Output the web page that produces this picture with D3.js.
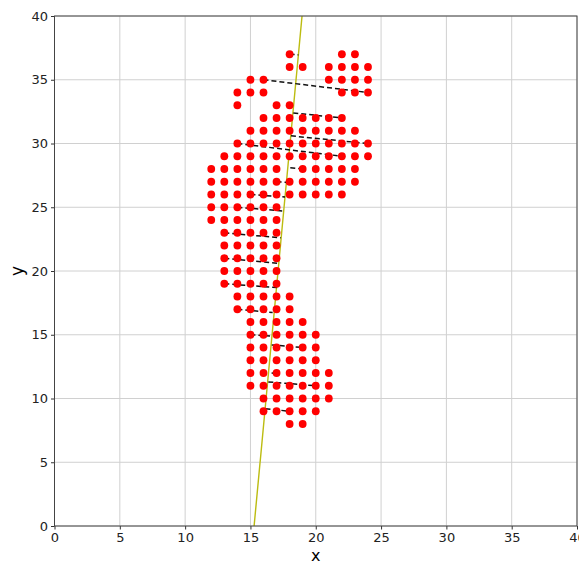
<!DOCTYPE html>
<html>
<head>
<meta charset="utf-8">
<script src="https://cdn.jsdelivr.net/npm/d3@7"></script>
<style>
  body { margin: 0; background: #fff; }
  .tick text { font-family: "DejaVu Sans", sans-serif; font-size: 13px; fill: #222; }
  .grid line { stroke: #d0d0d0; stroke-width: 1; }
</style>
</head>
<body>
<div id="chart"></div>
<script>
// point rows: y value and the x values found on that row
var rowY = [37, 36, 35, 34, 33, 32, 31, 30, 29, 28, 27, 26, 25, 24, 23, 22, 21, 20, 19, 18, 17, 16, 15, 14, 13, 12, 11, 10, 9, 8];
var rowXs = [
  [18, 22, 23],
  [18, 19, 21, 22, 23, 24],
  [15, 16, 21, 22, 23, 24],
  [14, 15, 16, 22, 23, 24],
  [14, 17, 18],
  [16, 17, 18, 19, 20, 21, 22],
  [15, 16, 17, 18, 19, 20, 21, 22, 23],
  [14, 15, 16, 17, 18, 19, 20, 21, 22, 23, 24],
  [13, 14, 15, 16, 17, 18, 19, 20, 21, 22, 23, 24],
  [12, 13, 14, 15, 16, 17, 19, 20, 21, 22, 23],
  [12, 13, 14, 15, 16, 17, 18, 19, 20, 21, 22, 23],
  [12, 13, 14, 15, 16, 17, 18, 19, 20, 21, 22],
  [12, 13, 14, 15, 16, 17],
  [12, 13, 14, 15, 16, 17],
  [13, 14, 15, 16, 17],
  [13, 14, 15, 16, 17],
  [13, 14, 15, 16, 17],
  [13, 14, 15, 16, 17],
  [13, 14, 15, 16, 17],
  [14, 15, 16, 17, 18],
  [14, 15, 16, 17, 18],
  [15, 16, 17, 18, 19],
  [15, 16, 17, 18, 19, 20],
  [15, 16, 17, 18, 19, 20],
  [15, 16, 17, 18, 19, 20],
  [15, 16, 17, 18, 19, 20, 21],
  [15, 16, 17, 18, 19, 20, 21],
  [16, 17, 18, 19, 20, 21],
  [16, 17, 18, 19, 20],
  [18, 19]
];

// fitted axis line (x, y)
var axisLine = [[15.28, 0], [18.95, 40]];

// dashed segments [x1, y1, x2, y2]
var segments = [
  [18, 37, 18.67, 36.95],
  [16, 35, 24, 34],
  [18.28, 32.4, 22, 32],
  [18.1, 30.6, 24, 30],
  [14, 30, 22, 29],
  [18.05, 28.1, 19, 28],
  [17, 27, 17.95, 26.95],
  [15, 26, 17.65, 25.8],
  [14, 25, 17.57, 24.7],
  [13, 23, 17.32, 22.6],
  [13, 21, 17.2, 20.6],
  [13, 19, 17.06, 18.7],
  [14, 17, 16.7, 16.74],
  [15, 15, 16.5, 14.9],
  [16.63, 14.2, 19, 14],
  [16.62, 12.0, 17.05, 11.96],
  [16.37, 11.3, 20, 11],
  [16.15, 9.2, 18, 9]
];

var ticks = [0, 5, 10, 15, 20, 25, 30, 35, 40];

var width = 579, height = 562;
var m = { left: 54.5, right: 577, top: 16, bottom: 526 };

var svg = d3.select("#chart").append("svg")
  .attr("width", width)
  .attr("height", height);

var x = d3.scaleLinear().domain([0, 40]).range([m.left, m.right]);
var y = d3.scaleLinear().domain([0, 40]).range([m.bottom, m.top]);

// grid
svg.append("g").attr("class", "grid")
  .selectAll("line").data(ticks).enter().append("line")
  .attr("x1", d => x(d)).attr("x2", d => x(d))
  .attr("y1", m.top).attr("y2", m.bottom);
svg.append("g").attr("class", "grid")
  .selectAll("line").data(ticks).enter().append("line")
  .attr("y1", d => y(d)).attr("y2", d => y(d))
  .attr("x1", m.left).attr("x2", m.right);

svg.append("clipPath").attr("id", "clip")
  .append("rect")
  .attr("x", m.left).attr("y", m.top)
  .attr("width", m.right - m.left).attr("height", m.bottom - m.top);

var plot = svg.append("g").attr("clip-path", "url(#clip)");

// fitted line
plot.append("line")
  .attr("x1", x(axisLine[0][0])).attr("y1", y(axisLine[0][1]))
  .attr("x2", x(axisLine[1][0])).attr("y2", y(axisLine[1][1]))
  .attr("stroke", "#bcbc10")
  .attr("stroke-width", 1.4);

// dashed pair lines
plot.selectAll(".seg").data(segments).enter().append("line")
  .attr("class", "seg")
  .attr("x1", d => x(d[0])).attr("y1", d => y(d[1]))
  .attr("x2", d => x(d[2])).attr("y2", d => y(d[3]))
  .attr("stroke", "#111")
  .attr("stroke-width", 1.5)
  .style("stroke-dasharray", "5, 3");

// points
var points = [];
rowY.forEach(function (yy, i) {
  rowXs[i].forEach(function (xx) { points.push([xx, yy]); });
});

plot.selectAll(".pt").data(points).enter().append("circle")
  .attr("class", "pt")
  .attr("cx", d => x(d[0]))
  .attr("cy", d => y(d[1]))
  .attr("r", 3.9)
  .attr("fill", "#ff0000");

// axes
svg.append("g")
  .attr("transform", "translate(0," + m.bottom + ")")
  .call(d3.axisBottom(x).tickValues(ticks).tickSize(3.5).tickPadding(3))
  .call(g => g.select(".domain").remove());
svg.append("g")
  .attr("transform", "translate(" + m.left + ",0)")
  .call(d3.axisLeft(y).tickValues(ticks).tickSize(3.5).tickPadding(3))
  .call(g => g.select(".domain").remove());

svg.selectAll(".tick line").attr("stroke", "#333");

// frame
svg.append("rect")
  .attr("x", m.left).attr("y", m.top)
  .attr("width", m.right - m.left).attr("height", m.bottom - m.top)
  .attr("fill", "none")
  .attr("stroke", "#444")
  .attr("stroke-width", 1);

svg.append("text")
  .attr("x", (m.left + m.right) / 2)
  .attr("y", 561)
  .attr("text-anchor", "middle")
  .style("font-family", "DejaVu Sans, sans-serif")
  .style("font-size", "16px")
  .text("x");

svg.append("text")
  .attr("transform", "translate(23," + ((m.top + m.bottom) / 2) + ") rotate(-90)")
  .attr("text-anchor", "middle")
  .style("font-family", "DejaVu Sans, sans-serif")
  .style("font-size", "17px")
  .text("y");
</script>
</body>
</html>
